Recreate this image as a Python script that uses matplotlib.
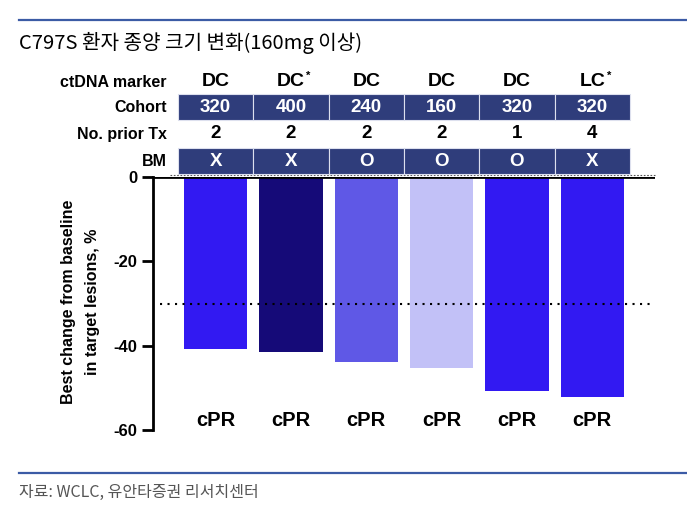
import numpy as np
import matplotlib
matplotlib.use('Agg')
import matplotlib.pyplot as plt
from matplotlib.patches import Rectangle
from matplotlib.lines import Line2D

# data
markers = ['DC', 'DC', 'DC', 'DC', 'DC', 'LC']
marker_star = [False, True, False, False, False, True]
cohort = ['320', '400', '240', '160', '320', '320']
prior_tx = ['2', '2', '2', '2', '1', '4']
bm = ['X', 'X', 'O', 'O', 'O', 'X']
change = [-40.9, -41.4, -43.9, -45.2, -50.7, -52.1]
response = ['cPR'] * 6
bar_colors = ['#3219f2', '#150a78', '#5f58e6', '#c2c1f7', '#3219f2', '#3219f2']

W, H = 687, 531
fig = plt.figure(figsize=(W / 100, H / 100), dpi=100)
bold = dict(family='Liberation Sans', fontweight='bold')

# axes placed in pixel terms
x0, x1, y0, y1 = 153, 655, 177, 430
ax = fig.add_axes([x0 / W, 1 - y1 / H, (x1 - x0) / W, (y1 - y0) / H])
ax.set_xlim(-0.832, 5.832)
ax.set_ylim(-60, 0)

def py2y(py):
    # figure pixel row -> data y
    return -(py - y0) * 60.0 / (y1 - y0)

xs = np.arange(len(change))
ax.bar(xs, change, width=0.84, color=bar_colors, edgecolor='none', zorder=2)

ax.plot([-0.739, 5.765], [-30, -30], color='black', lw=1.5,
        linestyle=(0, (1, 2.6)), zorder=3)
ax.axhline(0, color='black', lw=2, zorder=4)
ax.plot([-0.6, 5.83], [0.45, 0.45], color='#555555', lw=0.8,
        linestyle=(0, (1.5, 1.5)), zorder=4, clip_on=False)

for x, r in zip(xs, response):
    ax.text(x, py2y(420), r, ha='center', va='center', fontsize=14.5, **bold)

ax.set_yticks([0, -20, -40, -60])
ax.set_yticklabels(['0', '-20', '-40', '-60'], **bold, fontsize=12)
ax.tick_params(axis='y', length=8, width=2, pad=3)
ax.set_xticks([])
for s in ['top', 'right', 'bottom']:
    ax.spines[s].set_visible(False)
ax.spines['left'].set_linewidth(2)

# header table
box_color = '#2f3d7b'
def box_row(top, bottom, labels):
    for x, t in zip(xs, labels):
        ax.add_patch(Rectangle((x - 0.5, py2y(bottom)), 1, py2y(top) - py2y(bottom),
                               facecolor=box_color, edgecolor='#dde0ee', lw=0.8,
                               clip_on=False, zorder=5))
        ax.text(x, py2y((top + bottom) / 2 + 0.5), t, ha='center', va='center',
                color='white', fontsize=13.5, clip_on=False, zorder=6, **bold)

box_row(94, 120, cohort)
box_row(148, 174, bm)

for x, m, st in zip(xs, markers, marker_star):
    ax.text(x, py2y(82), m, ha='center', va='center', fontsize=14, **bold)
    if st:
        ax.text(x + 0.2, py2y(76), '*', ha='left', va='center', fontsize=8, **bold)
for x, t in zip(xs, prior_tx):
    ax.text(x, py2y(134), t, ha='center', va='center', fontsize=13.5, **bold)

row_labels = [('ctDNA marker', 82), ('Cohort', 107), ('No. prior Tx', 134), ('BM', 161)]
for lab, py in row_labels:
    fig.text(167 / W, 1 - py / H, lab, ha='right', va='center', fontsize=11.5, **bold)

# y label, two lines
fig.text(68 / W, 1 - 302 / H, 'Best change from baseline', rotation=90,
         ha='center', va='center', fontsize=11.5, **bold)
fig.text(93 / W, 1 - 302 / H, 'in target lesions, %', rotation=90,
         ha='center', va='center', fontsize=11.5, **bold)

# title, footer and rules
kr = ['Noto Sans CJK KR', 'DejaVu Sans']
fig.text(19 / W, 1 - 43 / H, 'C797S 환자 종양 크기 변화(160mg 이상)', family=kr,
         ha='left', va='center', fontsize=14.5, color='black')
fig.text(19 / W, 1 - 492 / H, '자료: WCLC, 유안타증권 리서치센터', family=kr,
         ha='left', va='center', fontsize=11.5, color='#555555')
for py in (20, 473):
    fig.add_artist(Line2D([19 / W, 1], [1 - py / H, 1 - py / H], color='#3b5ba5',
                          lw=1.6, transform=fig.transFigure))

fig.savefig('out.png', dpi=100)
